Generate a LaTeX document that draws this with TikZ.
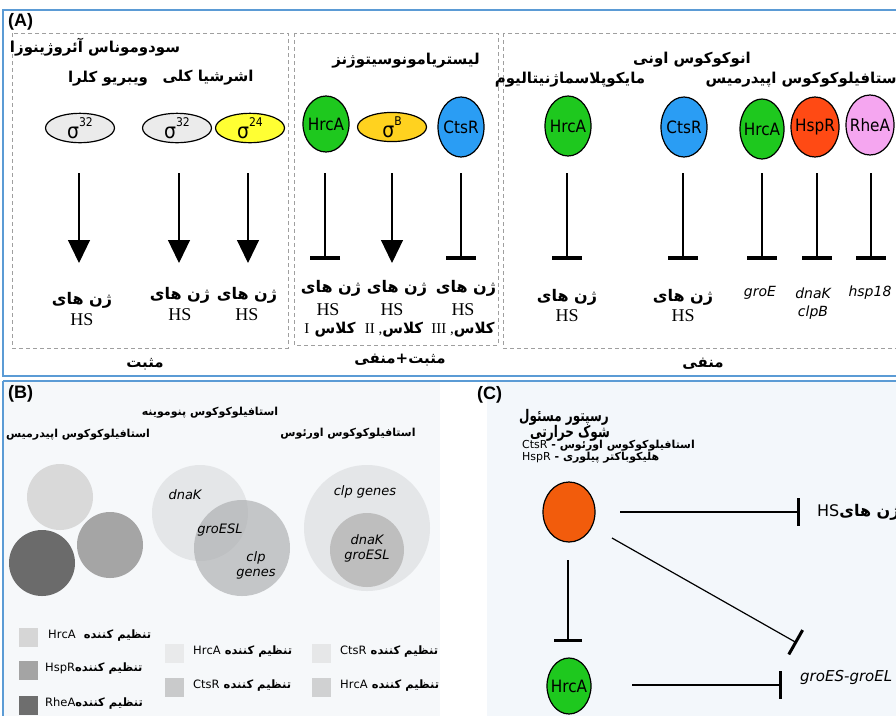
\documentclass[tikz,border=0pt]{standalone}
\usepackage{fontspec}
\setmainfont{DejaVu Sans}
\newfontfamily\fa[Script=Arabic]{DejaVu Sans}
\newfontfamily\fan[Script=Arabic,FakeStretch=0.75]{DejaVu Sans}
\newfontfamily\serifrm{Liberation Serif}
\newfontfamily\cond{DejaVu Sans Condensed}
\newfontfamily\lab{Liberation Sans}
\TeXXeTstate=1
\usetikzlibrary{arrows.meta,shapes.geometric}
\newcommand\RL[1]{\beginR#1\endR}
\newcommand\LR[1]{\beginL#1\endL}
\newcommand\sgm[1]{σ\raisebox{0.55em}{\fontsize{12}{12}\selectfont #1}}
\definecolor{panelblue}{HTML}{5B9BD5}
\definecolor{hgreen}{HTML}{1EC81E}
\definecolor{cblue}{HTML}{2A9DF4}
\definecolor{hred}{HTML}{FF4A14}
\definecolor{rpink}{HTML}{F5A6F0}
\definecolor{syellow}{HTML}{FFFF33}
\definecolor{sgold}{HTML}{FFD21F}
\definecolor{sgray}{HTML}{EBEBEB}
\definecolor{corange}{HTML}{F25C0C}
\definecolor{bgB}{HTML}{F6F8FA}
\definecolor{bgC}{HTML}{F3F7FB}
\tikzset{
 fa/.style={font=\fa\bfseries\fontsize{15}{17}\selectfont, inner sep=0pt},
 fag/.style={font=\fa\bfseries\fontsize{16}{18}\selectfont, inner sep=0pt},
 fab/.style={font=\fa\bfseries\fontsize{11}{13}\selectfont, inner sep=0pt},
 fasm/.style={font=\fa\bfseries\fontsize{11}{13}\selectfont, inner sep=0pt},
 leg/.style={font=\fa\bfseries\fontsize{11.5}{13}\selectfont, inner sep=0pt, anchor=west},
 hs/.style={font=\serifrm\fontsize{18}{20}\selectfont, inner sep=0pt},
 gene/.style={font=\itshape\fontsize{14}{16}\selectfont, inner sep=0pt},
 vgene/.style={font=\itshape\fontsize{13}{15}\selectfont, inner sep=0pt, align=center},
 prot/.style={ellipse, draw=black, line width=1.2pt, minimum width=46pt, minimum height=60pt, inner sep=0pt,
   label={[font=\cond\fontsize{17}{19}\selectfont, inner sep=0pt]center:#1}},
 sig/.style={ellipse, draw=black, line width=1.2pt, minimum width=69pt, minimum height=27pt, inner sep=0pt, font=\cond\fontsize{21}{21}\selectfont},
 act/.style={line width=1.2pt, -{Triangle[width=22pt,length=23pt]}},
 inh/.style={line width=1.2pt, -{Bar[width=30pt,line width=4pt]}},
 inhc/.style={line width=1.2pt, -{Bar[width=28pt,line width=3pt]}},
 dbox/.style={draw=gray!75, dash pattern=on 4pt off 3pt, line width=1pt},
 panel/.style={draw=panelblue, line width=2pt},
 lsq/.style={minimum size=19pt, inner sep=0pt},
 panlab/.style={font=\lab\bfseries\fontsize{18}{20}\selectfont, inner sep=0pt},
}
\begin{document}
\begin{tikzpicture}[x=1pt,y=-1pt]
\useasboundingbox (0,0) rectangle (896,716);
\clip (0,0) rectangle (896,716);
% backgrounds
\fill[white] (0,0) rectangle (896,716);
\fill[bgB] (4,382) rectangle (440,716);
\fill[bgC] (487,382) rectangle (896,716);
% ---------- panel A ----------
\draw[panel] (3,10) rectangle (905,376);
\node[panlab, anchor=west] (labA) at (8,22) {(A)};
\draw[dbox] (12,33) rectangle (288,348);
\draw[dbox] (294,33) rectangle (498,345);
\draw[dbox] (503,33) rectangle (910,348);
\node[fa] (grp1) at (145,364) {\RL{مثبت}};
\node[fa] (grp2) at (400,360) {\RL{مثبت+منفی}};
\node[fa] (grp3) at (703,364) {\RL{منفی}};
% organism names
\node[fa] (org1) at (95,47) {\RL{سودوموناس آئروژینوزا}};
\node[fa] (org2) at (108,79) {\RL{ویبریو کلرا}};
\node[fa] (org3) at (208,78) {\RL{اشرشیا کلی}};
\node[fa] (org4) at (406,61) {\RL{لیستریامونوسیتوژنز}};
\node[fa] (org5) at (692,60) {\RL{انوکوکوس اونی}};
\node[fa] (org6) at (570,80) {\RL{مایکوپلاسماژنیتالیوم}};
\node[fa, anchor=east] (org7) at (902,80) {\RL{استافیلوکوکوس اپیدرمیس}};
% regulators
\node[sig, fill=sgray] (s1) at (80,128) {\sgm{32}};
\node[sig, fill=sgray] (s2) at (177,128) {\sgm{32}};
\node[sig, fill=syellow] (s3) at (250,128) {\sgm{24}};
\node[prot=HrcA, fill=hgreen, minimum height=56pt] (p1) at (326,124) {};
\node[sig, fill=sgold] (s4) at (392,127) {\sgm{B}};
\node[prot=CtsR, fill=cblue] (p2) at (461,127) {};
\node[prot=HrcA, fill=hgreen] (p3) at (568,126) {};
\node[prot=CtsR, fill=cblue] (p4) at (684,127) {};
\node[prot=HrcA, fill=hgreen, minimum width=44pt] (p5) at (762,129) {};
\node[prot=HspR, fill=hred, minimum width=48pt] (p6) at (815,127) {};
\node[prot=RheA, fill=rpink, minimum width=48pt] (p7) at (870,125) {};
% line ends
\foreach \n/\x in {1/79,2/179,3/248,4/325,5/392,6/461,7/567,8/683,9/762,10/817,11/871}{
  \coordinate (t\n) at (\x,173);
}
\coordinate (b1) at (79,263);
\coordinate (b2) at (179,263);
\coordinate (b3) at (248,263);
\coordinate (b4) at (325,260);
\coordinate (b5) at (392,263);
\coordinate (b6) at (461,260);
\coordinate (b7) at (567,260);
\coordinate (b8) at (683,260);
\coordinate (b9) at (762,260);
\coordinate (b10) at (817,260);
\coordinate (b11) at (871,260);
\draw[act] (t1) -- (b1);
\draw[act] (t2) -- (b2);
\draw[act] (t3) -- (b3);
\draw[inh] (t4) -- (b4);
\draw[act] (t5) -- (b5);
\draw[inh] (t6) -- (b6);
\draw[inh] (t7) -- (b7);
\draw[inh] (t8) -- (b8);
\draw[inh] (t9) -- (b9);
\draw[inh] (t10) -- (b10);
\draw[inh] (t11) -- (b11);
% targets
\node[fag] (g1) at (82,300) {\RL{ژن های}};
\node[hs] (h1) at (82,320) {HS};
\node[fag] (g2) at (180,295) {\RL{ژن های}};
\node[hs] (h2) at (180,315) {HS};
\node[fag] (g3) at (247,295) {\RL{ژن های}};
\node[hs] (h3) at (247,315) {HS};
\node[fag] (g4) at (331,288) {\RL{ژن های}};
\node[hs] (h4) at (328,310) {HS};
\node[fa] (c4) at (330,330) {\LR{{\serifrm\mdseries I} \RL{کلاس}}};
\node[fag] (g5) at (397,288) {\RL{ژن های}};
\node[hs] (h5) at (392,310) {HS};
\node[fa] (c5) at (394,330) {\LR{{\serifrm\mdseries II ,}\RL{کلاس}}};
\node[fag] (g6) at (466,288) {\RL{ژن های}};
\node[hs] (h6) at (463,310) {HS};
\node[fa] (c6) at (463,330) {\LR{{\serifrm\mdseries III ,}\RL{کلاس}}};
\node[fag] (g7) at (567,297) {\RL{ژن های}};
\node[hs] (h7) at (567,316) {HS};
\node[fag] (g8) at (683,297) {\RL{ژن های}};
\node[hs] (h8) at (683,316) {HS};
\node[gene] (g9) at (760,293) {groE};
\node[gene] (g10) at (813,293) {dnaK};
\node[gene] (g10b) at (813,313) {clpB};
\node[gene] (g11) at (870,293) {hsp18};
% ---------- panel B ----------
\draw[panel] (3,381) -- (896,381);
\draw[panel] (3,381) -- (3,716);
\node[panlab, anchor=west] (labB) at (8,394) {(B)};
\node[fab] (bo1) at (210,413) {\RL{استافیلوکوکوس پنوموینه}};
\node[fab] (bo2) at (78,435) {\RL{استافیلوکوکوس اپیدرمیس}};
\node[fab] (bo3) at (348,434) {\RL{استافیلوکوکوس اورئوس}};
\node[circle, fill={rgb,255:red,217;green,217;blue,217}, minimum size=66pt, inner sep=0pt] (cA) at (60,497) {};
\node[circle, fill={rgb,255:red,107;green,107;blue,107}, minimum size=66pt, inner sep=0pt] (cC) at (42,563) {};
\node[circle, fill={rgb,255:red,165;green,165;blue,165}, minimum size=66pt, inner sep=0pt] (cB) at (110,545) {};
\node[circle, fill={rgb,255:red,228;green,230;blue,232}, minimum size=96pt, inner sep=0pt] (vA) at (200,513) {};
\node[circle, fill={rgb,255:red,170;green,172;blue,174}, fill opacity=0.65, minimum size=96pt, inner sep=0pt] (vB) at (242,548) {};
\node[circle, fill={rgb,255:red,228;green,230;blue,232}, minimum size=126pt, inner sep=0pt] (wA) at (367,528) {};
\node[circle, fill={rgb,255:red,190;green,190;blue,190}, minimum size=74pt, inner sep=0pt] (wB) at (367,550) {};
\node[vgene] (v1) at (185,495) {dnaK};
\node[vgene] (v2) at (220,530) {groESL};
\node[vgene] (v3) at (256,565) {clp\\genes};
\node[vgene] (w1) at (365,492) {clp genes};
\node[vgene] (w2) at (367,548) {dnaK\\groESL};
% legend
\node[lsq, fill={rgb,255:red,214;green,214;blue,214}] (q1) at (28,637) {};
\node[lsq, fill={rgb,255:red,164;green,164;blue,164}] (q2) at (28,670) {};
\node[lsq, fill={rgb,255:red,110;green,110;blue,110}] (q3) at (28,705) {};
\node[leg] (l1) at (48,636) {\RL{تنظیم کننده \ \LR{\mdseries HrcA}}};
\node[leg] (l2) at (45,669) {\RL{تنظیم کننده\LR{\mdseries HspR}}};
\node[leg] (l3) at (45,704) {\RL{تنظیم کننده\LR{\mdseries RheA}}};
\node[lsq, fill={rgb,255:red,233;green,234;blue,235}] (q4) at (174,653) {};
\node[lsq, fill={rgb,255:red,201;green,202;blue,203}] (q5) at (174,687) {};
\node[leg] (l4) at (193,652) {\RL{تنظیم کننده \LR{\mdseries HrcA}}};
\node[leg] (l5) at (193,686) {\RL{تنظیم کننده \LR{\mdseries CtsR}}};
\node[lsq, fill={rgb,255:red,230;green,231;blue,232}] (q6) at (321,653) {};
\node[lsq, fill={rgb,255:red,208;green,209;blue,210}] (q7) at (321,687) {};
\node[leg] (l6) at (340,652) {\RL{تنظیم کننده \LR{\mdseries CtsR}}};
\node[leg] (l7) at (340,686) {\RL{تنظیم کننده \LR{\mdseries HrcA}}};
% ---------- panel C ----------
\node[panlab, anchor=west] (labC) at (477,395) {(C)};
\node[font=\fan\bfseries\fontsize{16}{18}\selectfont, inner sep=0pt, anchor=east] (ct1) at (609,417) {\RL{رسپتور مسئول}};
\node[font=\fan\bfseries\fontsize{16}{18}\selectfont, inner sep=0pt, anchor=east] (ct2) at (610,433) {\RL{شوک حرارتی}};
\node[fasm, anchor=west] (ct3) at (522,446) {\RL{استافیلوکوکوس اورئوس - \LR{\mdseries CtsR}}};
\node[fasm, anchor=west] (ct4) at (522,458) {\RL{هلیکوباکتر پیلوری - \LR{\mdseries HspR}}};
\node[ellipse, draw=black, line width=1.2pt, fill=corange, minimum width=52pt, minimum height=60pt, inner sep=0pt] (reg) at (569,512) {};
\node[prot=HrcA, fill=hgreen, minimum width=44pt, minimum height=56pt] (hrcC) at (569,686) {};
\node[font=\fa\bfseries\fontsize{16}{18}\selectfont, inner sep=0pt, anchor=west] (hsC) at (817,512) {\RL{ژن های\LR{\mdseries HS}}};
\node[gene, font=\itshape\fontsize{15}{17}\selectfont, anchor=west] (gro) at (800,677) {groES-groEL};
\coordinate (r1s) at (620,512);
\coordinate (r1e) at (800,512);
\coordinate (r2s) at (568,560);
\coordinate (r2e) at (568,642);
\coordinate (r3s) at (612,538);
\coordinate (r3e) at (797,643);
\coordinate (r4s) at (632,685);
\coordinate (r4e) at (782,685);
\draw[inhc] (r1s) -- (r1e);
\draw[inhc] (r2s) -- (r2e);
\draw[inhc] (r3s) -- (r3e);
\draw[inhc] (r4s) -- (r4e);
\end{tikzpicture}
\end{document}
